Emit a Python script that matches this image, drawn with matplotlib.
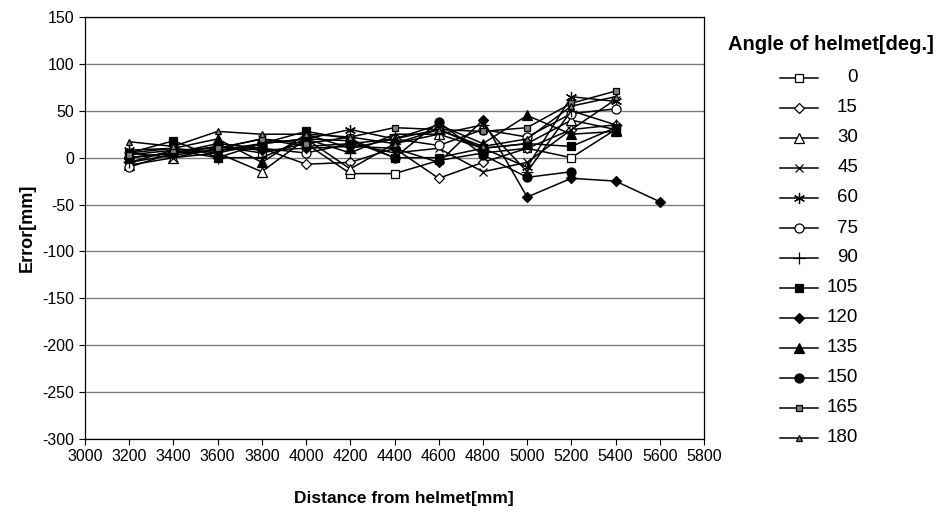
import numpy as np
import matplotlib.pyplot as plt
from matplotlib.lines import Line2D

plt.rcParams['font.family'] = ['Liberation Sans', 'DejaVu Sans']
plt.rcParams['axes.unicode_minus'] = False

# distance from helmet [mm]
distance = [3200, 3400, 3600, 3800, 4000, 4200, 4400, 4600, 4800, 5000, 5200, 5400, 5600]

# error [mm] per helmet angle (approximate)
angles = [0, 15, 30, 45, 60, 75, 90, 105, 120, 135, 150, 165, 180]
err_0 = [0, 5, 12, 5, 15, -17, -17, -3, 5, 10, 0, 30]
err_15 = [-5, 3, 8, 10, -7, -5, 10, -22, -5, 10, 30, 35]
err_30 = [-8, 0, 5, -15, 20, -12, 15, 25, 10, 15, 40, 30]
err_45 = [5, 0, 10, 20, 12, 15, 5, 10, -15, -5, 30, 62]
err_60 = [8, 10, 5, 15, 20, 30, 20, 30, 10, -10, 65, 60]
err_75 = [-10, 5, 15, 10, 5, 15, 20, 13, 30, 22, 47, 52]
err_90 = [-5, 8, 0, 0, 20, 5, 25, 25, 35, -15, 50, 35]
err_105 = [5, 18, 0, 15, 28, 20, 0, 0, 10, 15, 12, 32]
err_120 = [0, 5, 12, 8, 10, 12, 10, -5, 40, -42, -22, -25, -47]
err_135 = [5, 10, 20, -5, 25, 10, 20, 35, 15, 45, 25, 28]
err_150 = [0, 5, 8, 15, 20, 18, 0, 38, 3, -21, -15]
err_165 = [3, 8, 10, 20, 15, 22, 32, 30, 28, 32, 58, 71]
err_180 = [17, 12, 28, 25, 25, 22, 15, 30, 12, 20, 55, 65]

errors = [err_0, err_15, err_30, err_45, err_60, err_75, err_90,
          err_105, err_120, err_135, err_150, err_165, err_180]

# marker, face colour, size
styles = [
    ('s', 'white', 6),
    ('D', 'white', 5),
    ('^', 'white', 6.5),
    ('x', 'black', 5.5),
    ((6, 2, 0), 'black', 8),
    ('o', 'white', 6.5),
    ('+', 'black', 8),
    ('s', 'black', 6),
    ('D', 'black', 5),
    ('^', 'black', 6.5),
    ('o', 'black', 6.5),
    ('s', '#808080', 4.5),
    ('^', '#808080', 5),
]

fig = plt.figure(figsize=(9.5, 5.15), dpi=100)
ax = fig.add_axes([85 / 950, 1 - 439 / 515, (704 - 85) / 950, (439 - 17) / 515])

for ang, vals, (m, fc, ms) in zip(angles, errors, styles):
    ax.plot(distance[:len(vals)], vals, color='black', lw=1.1, marker=m,
            markerfacecolor=fc, markeredgecolor='black', markeredgewidth=0.9,
            markersize=ms, zorder=3)

ax.set_xlim(3000, 5800)
ax.set_ylim(-300, 150)
ax.set_xticks(np.arange(3000, 5801, 200))
ax.set_yticks(np.arange(-300, 151, 50))
ax.tick_params(labelsize=11.5, direction='out', length=4, width=0.8)
ax.yaxis.grid(True, color='#808080', lw=1)
ax.set_axisbelow(True)
for s in ax.spines.values():
    s.set_linewidth(0.9)

ax.set_xlabel('Distance from helmet[mm]', fontsize=12.5, fontweight='bold')
ax.xaxis.set_label_coords(0.515, -0.123)
ax.set_ylabel('Error[mm]', fontsize=13, fontweight='bold', labelpad=5)

# legend drawn at the right, numbers right-aligned as in the original
fig.text(831 / 950, 1 - 45 / 515, 'Angle of helmet[deg.]', ha='center', va='center',
         fontsize=14.5, fontweight='bold')
for i, (ang, (m, fc, ms)) in enumerate(zip(angles, styles)):
    yy = 1 - (78 + 30 * i) / 515
    fig.add_artist(Line2D([780 / 950, 818 / 950], [yy, yy], color='black', lw=1.1))
    fig.add_artist(Line2D([799 / 950], [yy], marker=m, markerfacecolor=fc,
                          markeredgecolor='black', markeredgewidth=0.9,
                          markersize=ms, color='black'))
    fig.text(858 / 950, yy, str(ang), ha='right', va='center', fontsize=13.5)

fig.savefig('out.png', dpi=100)
